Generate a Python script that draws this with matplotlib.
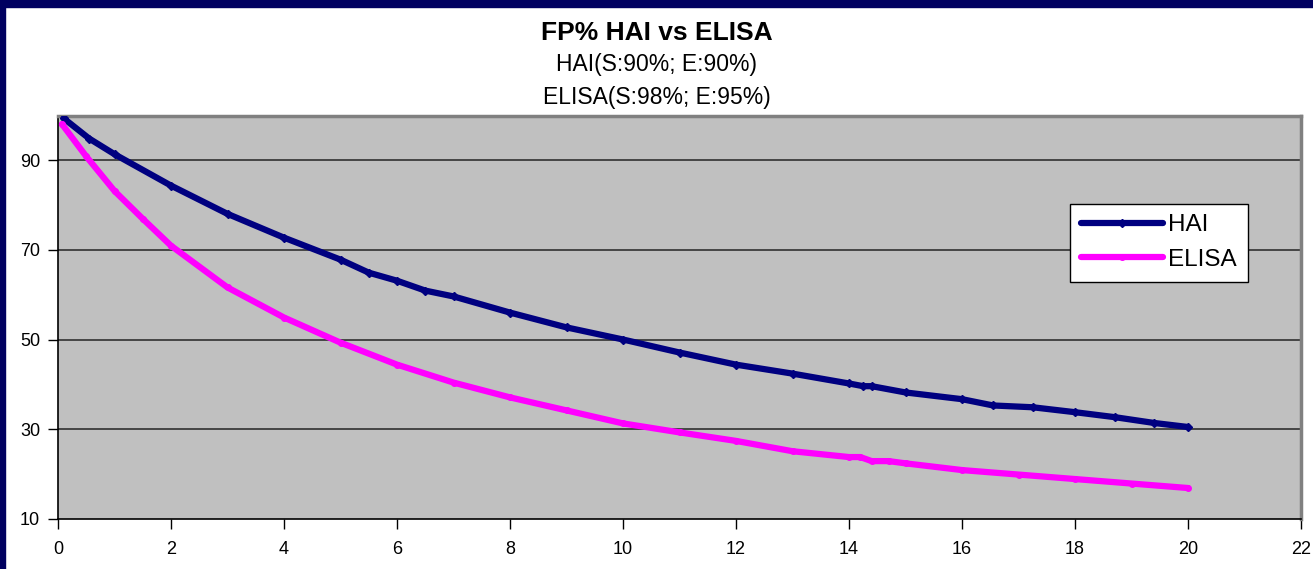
import matplotlib.pyplot as plt
from matplotlib.patches import Rectangle

plt.rcParams['font.family'] = ['Liberation Sans', 'DejaVu Sans']

# false-positive % against prevalence, HAI assay
hai_x = [0.1, 0.55, 1, 2, 3, 4, 5, 5.5, 6, 6.5, 7, 8, 9, 10, 11, 12, 13, 14,
         14.25, 14.4, 15, 16, 16.55, 17.25, 18, 18.7, 19.4, 20]
hai_y = [99.3, 94.8, 91.3, 84.3, 78.0, 72.7, 67.8, 64.9, 63.1, 60.9, 59.6, 56.0, 52.7, 50.0,
         47.1, 44.4, 42.4, 40.2, 39.6, 39.6, 38.2, 36.7, 35.3, 34.9, 33.8, 32.7, 31.4, 30.5]

# same for ELISA
elisa_x = [0.07, 0.5, 1, 1.5, 2, 3, 4, 5, 6, 7, 8, 9, 10, 11, 12, 13, 14,
           14.2, 14.4, 14.7, 15, 16, 17, 18, 19, 20]
elisa_y = [98.0, 90.8, 83.1, 76.9, 70.9, 61.6, 54.9, 49.3, 44.4, 40.4, 37.1, 34.2, 31.3,
           29.3, 27.4, 25.1, 23.8, 23.8, 22.9, 22.9, 22.4, 20.9, 19.9, 18.9, 17.9, 16.9]

x_ticks = list(range(0, 23, 2))
y_ticks = [10, 30, 50, 70, 90]

fig = plt.figure(figsize=(13.13, 5.69), dpi=100)
fig.patch.set_facecolor('white')

# dark slide frame on the top and left
fig.patches.append(Rectangle((0, 0.988), 1, 0.012, transform=fig.transFigure,
                             color='#000060', zorder=0))
fig.patches.append(Rectangle((0, 0), 0.004, 1, transform=fig.transFigure,
                             color='#000060', zorder=0))

ax = fig.add_axes([0.0442, 0.0879, 0.9467, 0.7081])
ax.set_facecolor('#C0C0C0')

ax.plot(hai_x, hai_y, color='#000080', lw=4.5, marker='D', ms=4,
        solid_joinstyle='round', solid_capstyle='round', label='HAI', zorder=3)
ax.plot(elisa_x, elisa_y, color='#FF00FF', lw=4.5, marker='o', ms=4,
        solid_joinstyle='round', solid_capstyle='round', label='ELISA', zorder=3)

ax.set_xlim(0, 22)
ax.set_ylim(10, 99.8)
ax.set_xticks(x_ticks)
ax.set_yticks(y_ticks)
ax.tick_params(axis='both', direction='out', length=7, width=1, color='black',
               labelsize=13)
ax.tick_params(axis='x', pad=9)
ax.tick_params(axis='y', pad=6)

for y in y_ticks[1:]:
    ax.axhline(y, color='#303030', lw=1.2, zorder=1)

ax.spines['left'].set_color('black')
ax.spines['bottom'].set_color('black')
ax.spines['left'].set_linewidth(1.2)
ax.spines['bottom'].set_linewidth(1.2)
ax.spines['top'].set_color('#808080')
ax.spines['right'].set_color('#808080')
ax.spines['top'].set_linewidth(2.5)
ax.spines['right'].set_linewidth(2.5)

leg = ax.legend(loc='upper left', bbox_to_anchor=(0.814, 0.783), fontsize=17.5,
                frameon=True, fancybox=False, edgecolor='black', framealpha=1,
                handlelength=3.4, handletextpad=0.2, borderpad=0.45,
                labelspacing=0.5, borderaxespad=0)
leg.get_frame().set_linewidth(1)

fig.text(0.5, 0.942, 'FP% HAI vs ELISA', ha='center', va='center',
         fontsize=19, fontweight='bold')
fig.text(0.5, 0.886, 'HAI(S:90%; E:90%)', ha='center', va='center', fontsize=16.5)
fig.text(0.5, 0.829, 'ELISA(S:98%; E:95%)', ha='center', va='center', fontsize=16.5)

fig.savefig('out.png', dpi=100)
